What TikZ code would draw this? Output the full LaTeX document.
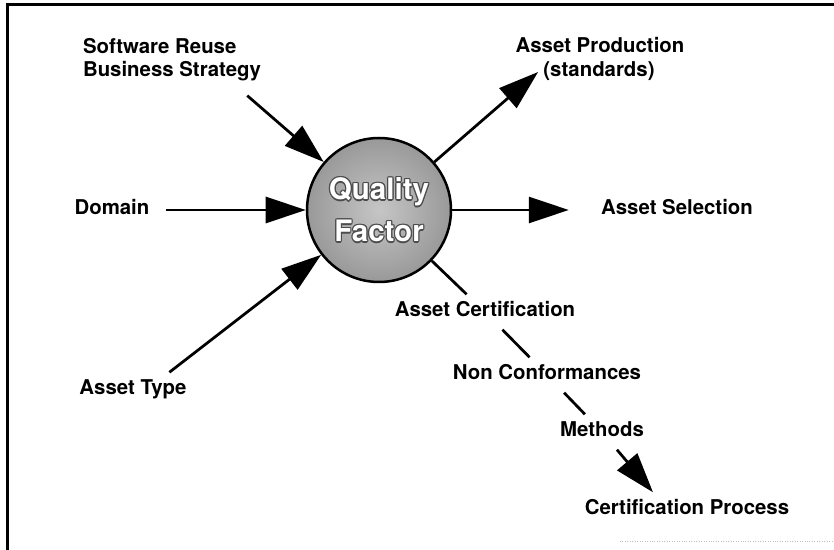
\documentclass[tikz,border=0pt]{standalone}
\usepackage{fontspec}
\setmainfont{TeX Gyre Heros}
\usetikzlibrary{arrows.meta, positioning}

\tikzset{
  lbl/.style={font=\fontsize{11.6pt}{13.1pt}\selectfont\bfseries, inner xsep=0.1cm, inner ysep=0.18cm},
  word/.style={lbl, text height=0.75em, text depth=0.2em},
  wire/.style={line width=0.055cm, black},
  arr/.style={wire, -{Triangle[length=0.8cm, width=0.52cm]}},
  qtxt/.style={font=\fontsize{16.8pt}{23.9pt}\selectfont\bfseries, align=center}
}

\begin{document}
\begin{tikzpicture}
    % Reference point: middle of the ball
    \coordinate (center) at (0,0);
    \useasboundingbox (-7.58,-6.8) rectangle (9.10,4.2);

    % Open frame (top and left edges)
    \draw[line width=0.06cm] (-7.42,-6.8) -- (-7.42,4.1) -- (9.10,4.1);
    \draw[gray!50, densely dotted] (4.82,-6.62) -- (9.10,-6.62);

    % Quality factor ball
    \node[circle, draw, line width=0.05cm, minimum size=2.88cm,
          inner color=gray!45, outer color=gray!80] (qf) at (center) {};
    \foreach \dx/\dy [count=\k] in {0.7/0,-0.7/0,0/0.7,0/-0.7,0.5/0.5,0.5/-0.5,-0.5/0.5,-0.5/-0.5} {
        \node[qtxt, text=black!70] (qedge\k) at ([xshift=\dx pt, yshift=\dy pt]qf.center) {Quality\\Factor};
    }
    \node[qtxt, text=white] (qtext) at (qf.center) {Quality\\Factor};

    % Inputs
    \node[lbl, align=left] (sr) at ([xshift=-4.14cm, yshift=3.0cm]center) {Software Reuse\\Business Strategy};
    \node[word] (dom) at ([xshift=-5.34cm]center) {Domain};
    \node[word] (atype) at ([xshift=-4.92cm, yshift=-3.6cm]center) {Asset Type};

    % Outputs
    \node[word] (prod) at ([xshift=4.42cm, yshift=3.24cm]center) {Asset Production};
    \node[word] (std) at ([xshift=4.40cm, yshift=2.76cm]center) {(standards)};
    \node[word] (sel) at ([xshift=5.96cm]center) {Asset Selection};

    % Certification chain
    \node[word] (cert) at ([xshift=2.12cm, yshift=-2.04cm]center) {Asset Certification};
    \node[word] (ncon) at ([xshift=3.36cm, yshift=-3.3cm]center) {Non Conformances};
    \node[word] (meth) at ([xshift=4.46cm, yshift=-4.44cm]center) {Methods};
    \node[word] (cproc) at ([xshift=6.16cm, yshift=-6.0cm]center) {Certification Process};

    % Arrows into the ball
    \draw[arr] ([xshift=-0.38cm, yshift=-0.1cm]sr.south east) -- (qf);
    \draw[arr, shorten <=0.22cm] (dom) -- (qf);
    \draw[arr] ([xshift=-0.45cm]atype.north east) -- (qf);

    % Arrows out of the ball
    \draw[arr] (qf) -- (std.west);
    \draw[arr, shorten >=0.54cm] (qf) -- (sel);

    \draw[wire] (qf) -- (cert);
    \draw[wire] (cert) -- (ncon);
    \draw[wire] (ncon) -- (meth);
    \draw[arr] (meth) -- ([xshift=-0.68cm]cproc.north);
\end{tikzpicture}
\end{document}
